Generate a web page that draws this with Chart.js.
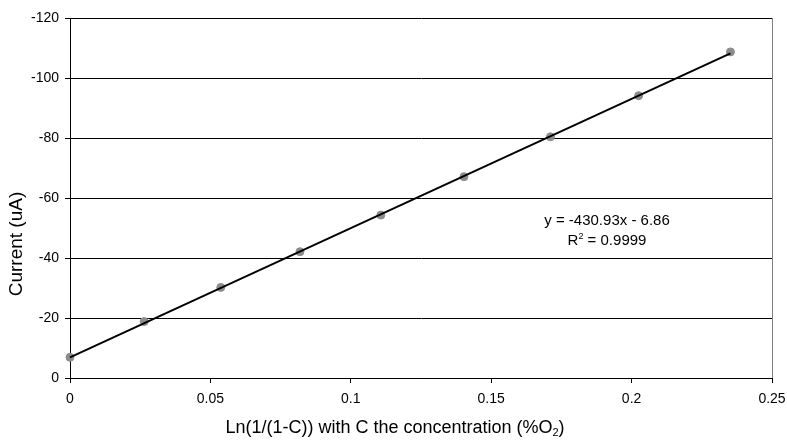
<!DOCTYPE html>
<html>
<head>
<meta charset="utf-8">
<script src="https://cdn.jsdelivr.net/npm/chart.js@4/dist/chart.umd.min.js"></script>
<style>
  html, body { margin: 0; padding: 0; background: #fff; }
  #wrap { width: 787px; height: 444px; position: relative; }
</style>
</head>
<body>
<div id="wrap"><canvas id="myChart"></canvas></div>
<script>
// measured points
const lnX = [0, 0.0264, 0.0537, 0.0819, 0.1107, 0.1403, 0.1711, 0.2025, 0.2352];
const current = [-6.9, -18.8, -30.2, -42.1, -54.3, -67.1, -80.4, -94.1, -108.7];
// linear trend line end points
const trendX = [0, 0.2352];
const trendY = [-6.86, -108.21];
const xTicks = [0, 0.05, 0.1, 0.15, 0.2, 0.25];
const yTicks = [0, -20, -40, -60, -80, -100, -120];
const eqText = 'y = -430.93x - 6.86';
const r2Value = '0.9999';

const FONT = '"Liberation Sans", Arial, sans-serif';

// titles, equation label and right border
const extras = {
  id: 'extras',
  afterDraw(chart) {
    const ctx = chart.ctx;
    const a = chart.chartArea;
    ctx.save();
    // right border (grey)
    ctx.strokeStyle = '#808080';
    ctx.lineWidth = 1;
    ctx.beginPath();
    ctx.moveTo(a.right + 0.5, a.top);
    ctx.lineTo(a.right + 0.5, a.bottom);
    ctx.stroke();

    ctx.fillStyle = '#000';
    // y title
    ctx.font = '19px ' + FONT;
    ctx.textAlign = 'center';
    ctx.textBaseline = 'middle';
    ctx.save();
    ctx.translate(17, 244);
    ctx.rotate(-Math.PI / 2);
    ctx.fillText('Current (uA)', 0, 0);
    ctx.restore();

    // x title with subscript
    ctx.textAlign = 'left';
    ctx.textBaseline = 'alphabetic';
    const p1 = 'Ln(1/(1-C)) with C the concentration (%O';
    const p3 = ')';
    ctx.font = '18px ' + FONT;
    const w1 = ctx.measureText(p1).width;
    const w3 = ctx.measureText(p3).width;
    ctx.font = '11px ' + FONT;
    const w2 = ctx.measureText('2').width;
    const total = w1 + w2 + w3;
    let x = 395 - total / 2;
    const base = 433;
    ctx.font = '18px ' + FONT;
    ctx.fillText(p1, x, base);
    x += w1;
    ctx.font = '11px ' + FONT;
    ctx.fillText('2', x, base + 3);
    x += w2;
    ctx.font = '18px ' + FONT;
    ctx.fillText(p3, x, base);

    // equation
    ctx.font = '15px ' + FONT;
    ctx.textAlign = 'center';
    ctx.fillText(eqText, 607, 225);
    const r1 = 'R', r3 = ' = ' + r2Value;
    const wr1 = ctx.measureText(r1).width;
    const wr3 = ctx.measureText(r3).width;
    ctx.font = '9px ' + FONT;
    const wr2 = ctx.measureText('2').width;
    let rx = 607 - (wr1 + wr2 + wr3) / 2;
    ctx.textAlign = 'left';
    ctx.font = '15px ' + FONT;
    ctx.fillText(r1, rx, 245);
    rx += wr1;
    ctx.font = '9px ' + FONT;
    ctx.fillText('2', rx, 239);
    rx += wr2;
    ctx.font = '15px ' + FONT;
    ctx.fillText(r3, rx, 245);
    ctx.restore();
  }
};

const ctx = document.getElementById('myChart').getContext('2d');
new Chart(ctx, {
  type: 'scatter',
  data: {
    datasets: [
      {
        label: 'trend',
        data: trendX.map((x, i) => ({ x: x, y: trendY[i] })),
        showLine: true,
        borderColor: '#000',
        borderWidth: 2,
        pointRadius: 0,
        clip: false,
        order: 0
      },
      {
        label: 'current',
        data: lnX.map((x, i) => ({ x: x, y: current[i] })),
        backgroundColor: '#8c8c8c',
        borderColor: '#8c8c8c',
        pointRadius: 4,
        clip: false,
        order: 1
      }
    ]
  },
  options: {
    responsive: true,
    maintainAspectRatio: false,
    animation: false,
    layout: { padding: { left: 0, top: 18, right: 15, bottom: 0 } },
    plugins: {
      legend: { display: false },
      tooltip: { enabled: false }
    },
    scales: {
      x: {
        type: 'linear',
        min: 0,
        max: 0.25,
        afterBuildTicks: s => { s.ticks = xTicks.map(v => ({ value: v })); },
        afterFit: s => { s.height = 66; s.paddingRight = 0; s.paddingLeft = 0; },
        ticks: {
          color: '#000',
          font: { family: FONT, size: 14 },
          padding: 8,
          maxRotation: 0,
          callback: v => String(v)
        },
        grid: { drawOnChartArea: false, drawTicks: true, tickLength: 5, color: '#000' },
        border: { color: '#000', width: 1 }
      },
      y: {
        type: 'linear',
        min: -120,
        max: 0,
        reverse: true,
        afterBuildTicks: s => { s.ticks = yTicks.map(v => ({ value: v })); },
        afterFit: s => { s.width = 70; s.paddingTop = 0; s.paddingBottom = 0; },
        ticks: {
          color: '#000',
          font: { family: FONT, size: 14 },
          padding: 6,
          callback: v => String(v)
        },
        grid: { color: '#000', lineWidth: 1, tickLength: 5 },
        border: { color: '#000', width: 1 }
      }
    }
  },
  plugins: [extras]
});
</script>
</body>
</html>
